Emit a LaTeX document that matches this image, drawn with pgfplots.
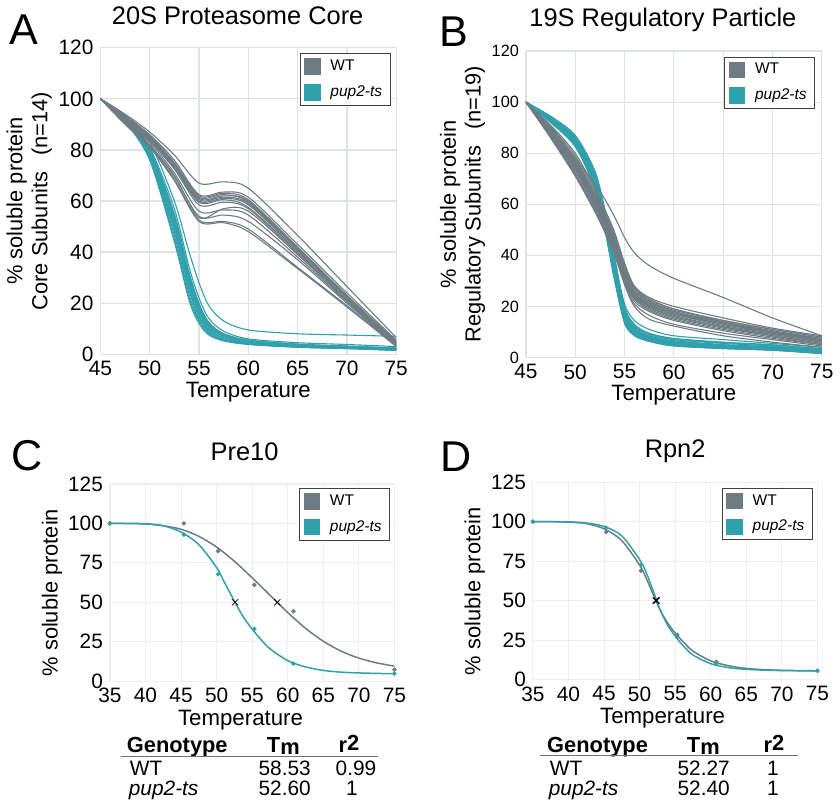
\documentclass[border=0pt]{standalone}
\usepackage{fontspec}
\setmainfont{Liberation Sans}
\usepackage{pgfplots}
\usepackage{pgfplotstable}
\pgfplotsset{compat=1.18}

\definecolor{wtc}{RGB}{108,124,130}
\definecolor{tsc}{RGB}{48,160,172}
\definecolor{gridab}{RGB}{222,228,229}
\definecolor{gridcd}{RGB}{238,240,240}

\pgfplotsset{
  panel/.style={
    scale only axis,
    /pgf/number format/assume math mode=true,
    grid=major,
    major tick length=0pt,
    tick style={draw=none},
    tick label style={font=\fontsize{10.5}{12}\selectfont},
    title style={font=\fontsize{12.8}{14}\selectfont, anchor=base},
    xlabel style={font=\fontsize{11.2}{13}\selectfont, anchor=base},
    ylabel style={font=\fontsize{11}{12.5}\selectfont, align=center, anchor=center},
    legend cell align=left,
    legend image code/.code={\fill (0pt,-3.9pt) rectangle (7.8pt,3.9pt);},
    legend style={draw=black!75, line width=0.5pt, font=\fontsize{7.8}{9}\selectfont,
      at={(1,1)}, anchor=north east, inner xsep=2pt, inner ysep=1pt, row sep=2pt,
      /tikz/every odd column/.append style={column sep=3pt}},
  },
  panelAB/.style={panel, width=149pt, height=154.3pt, xmin=45, xmax=75, ymin=0, ymax=120,
    xtick={45,50,...,75}, ytick={0,20,...,120},
    axis line style={draw=gridab}, major grid style={draw=gridab, line width=0.6pt}},
  panelCD/.style={panel, width=143.3pt, height=99.3pt, xmin=35, xmax=75, ymin=0, ymax=125,
    xtick={35,40,...,75}, ytick={0,25,...,125},
    axis line style={draw=gridcd}, major grid style={draw=gridcd, line width=0.5pt}},
  wtline/.style={wtc, line width=0.55pt, smooth, no marks, forget plot},
  tsline/.style={tsc, line width=0.55pt, smooth, no marks, forget plot},
}

% panel A, 20S core subunits
\pgfplotstableread{
x c1 c2 c3 c4 c5 c6 c7 c8 c9 c10 c11 c12 c13 c14
45 100 100 100 100 100 100 100 100 100 100 100 100 100 100
47.5 94 93 93 92.5 93.5 92 93 92.5 92 91.5 91 91 90.5 90
50 87 85 85.5 84.5 86 84 85 84 83.5 83 82 82 81.5 81
52.5 78 75 75 74 76 73.5 74.5 73 72.5 71 70 69.5 68.5 68
55 67 62 61 60.5 62.5 60 61.5 59.5 58.5 56 53.5 54 52.5 52
57.5 67.5 63 62 61.5 63.5 61 62.5 60.5 59.5 56.5 57 54.5 52 51.5
60 65 60.5 60 59 61.5 58.5 59.5 57.5 57 54.5 56 52 49 48
65 46.5 42 41.5 41 43 40.5 41.5 40 39.5 38 39 37 34 33.5
70 26.5 23 23 22.5 24 22 22.5 21.5 21 20.5 21 20 19 18.5
75 6.5 4.5 5 4.5 5.5 4 5 4 3.5 3.5 4 3.5 3.5 3
}\Awt

\pgfplotstableread{
x t1 t2 t3 t4 t5 t6 t7 t8 t9 t10 t11 t12 t13 t14
45 100 100 100 100 100 100 100 100 100 100 100 100 100 100
47.5 93.5 93 92.5 92.5 92 92 91.5 93 92.5 91.5 91 93 92 91
50 83 81 80 79 78.5 78 77.5 80.5 79.5 77 76.5 80 78.5 76
52.5 60 57 54 52 50 49 48 55 53 46.5 45 53.5 51 44
54 40 34 31 29 27 26 25 32 30 23.5 22 31 28 21
55 28 22 19 17.5 16 15 14.5 20 18 13.5 13 19 17 12
56 19 14 12 11 10 9.5 9 12.5 11.5 8.5 8 12 10.5 7.5
57.5 13 9 8 7 6.5 6 6 8 7.5 5.5 5.5 7.5 7 5.2
60 9.5 6 5.5 5 4.5 4.3 4 5.5 5 4 4 5 4.8 3.8
65 8 4.5 4 3.5 3.2 3 3 3.8 3.5 2.8 2.8 3.6 3.4 2.7
70 7.5 3.8 3.2 3 2.7 2.5 2.5 3 3 2.3 2.2 3 2.8 2.2
75 7 3 2.5 2.2 2 1.8 1.7 2.3 2 1.6 1.5 2.4 2.1 1.5
}\Ats

% panel B, 19S regulatory subunits
\pgfplotstableread{
x g1 g2 g3 g4 g5 g6 g7 g8 g9 g10 g11 g12 g13 g14 g15 g16 g17 g18 g19
45 100 100 100 100 100 100 100 100 100 100 100 100 100 100 100 100 100 100 100
47.5 90 91 90 89.5 89 88.5 88 87.5 87 86 90.5 89 88.5 88 87.5 86.5 89.5 88 87
50 78 80 78 77 76 75 74 73 72 71 79 76.5 75.5 74.5 73.5 71.5 77.5 75 73
52 68 66 64 63 62 61 60 59 58 57 65 62.5 61.5 60.5 59.5 57.5 63.5 61 59
53 62 58 56 55 54 53 52 51 50 49 57 54.5 53.5 52.5 51.5 49.5 55.5 53 51
54 55 49 47 46 45 44 43 42 41 40 48 45.5 44.5 43.5 42.5 40.5 46.5 44 42
55 47 37 35 34 33 32 31 30 29.5 29 36 33.5 32.5 31.5 30.5 28.5 34.5 32 31
56 41 28 27 26 25 24.5 24 23 22 21 27.5 25.5 25 24 23 20 26.5 24.5 23.5
57.5 36 23.5 22.5 22 21 20.5 20 19 18 16.5 23 21.5 21 20 18.5 15 22 20.5 19.5
60 31 20 19 18 17.5 17 16.5 15.5 14.5 13 19 18 17.5 16 15 12.3 18.5 17 16
65 23.5 15.5 14.5 14 13 12.5 12 11.5 10.5 9.5 14 13.5 13.5 12 11 8.5 14.5 13 12
70 15.5 11.5 11 10.5 10 9.5 9 8.5 7.5 7 10 10 10 9 8 6 11 9.5 8.5
75 8.5 8.5 8 7.5 7 6.5 6 5.5 5 4.5 6.5 7 7.5 6 5 4 8 6.5 5.5
}\Bwt

\pgfplotstableread{
x b1 b2 b3 b4 b5 b6 b7 b8 b9 b10 b11 b12 b13 b14 b15 b16 b17 b18 b19
45 100 100 100 100 100 100 100 100 100 100 100 100 100 100 100 100 100 100 100
47.5 94.5 94 93.5 93.5 93 93 92.5 92.5 92 94 93.8 93.2 93 92.8 92.5 94.2 93.6 93.3 92.3
50 87 86 85.5 85 84.5 84 83.5 83 82.5 86.5 85.5 84.8 84.2 83.8 83.2 86.2 85.2 84.6 83
52 73 71.5 70.5 70 69.5 69 68 67 66 72 71 69.8 69 68.5 67.5 72 70.2 69.6 67
53 58 57 56 55 54 53 52 51 50 57 56.5 54.5 53.5 52.5 51.5 57.5 55.5 54.2 50.5
54 39 37 36 35 34 33 32 31 30 38 36.5 34.5 33.5 32.5 31.5 38 35.5 34.2 30.5
55 20 18.5 17.5 17 16 15.5 15 14 13.5 21 18 16.5 16 15.2 14.5 19.5 17.2 16.2 13.8
56 13 12 11.5 11 10.5 10 9.5 9 8.5 14.5 11.5 10.8 10.3 9.8 9.2 12.5 11.2 10.6 8.8
57.5 9.5 9 8.5 8 7.5 7 7 6.5 6.3 11 8.5 7.8 7.3 7.2 6.8 9.3 8.2 7.6 6.4
60 7.5 7 6.5 6 5.5 5.3 5 4.8 4.5 8.5 6.5 5.8 5.5 5.2 5 7.2 6.2 5.7 4.6
65 6 5.5 5 4.5 4.2 4 3.8 3.6 3.5 7 5 4.4 4.2 4 3.8 5.8 4.7 4.3 3.5
70 5 4.5 4 3.8 3.5 3.3 3 3 2.8 5.5 4.2 3.7 3.4 3.2 3 4.8 3.9 3.6 2.9
75 3.5 3 2.8 2.5 2.2 2 1.8 1.6 1.5 4 2.7 2.4 2.2 2 1.9 3.3 2.6 2.3 1.6
}\Bts

\begin{document}
\begin{tikzpicture}
\begin{scope}[x=0.5pt, y=-0.5pt]
\path[use as bounding box] (0,0) rectangle (840,804);
\end{scope}

% ---- A ----
\begin{axis}[panelAB, at={(49.35pt,-175.85pt)}, anchor=south west,
  title={20S Proteasome Core}, title style={at={(0.464,1)}, yshift=5.8pt},
  xlabel={Temperature}, xlabel style={at={(0.5,0)}, yshift=-21.65pt},
  ylabel={\% soluble protein\\Core Subunits\hspace{0.75em}(n=14)},
  ylabel style={at={(-0.2406,0.5)}},
  legend style={xshift=-2.85pt, yshift=-2.85pt}]
\pgfplotsinvokeforeach{1,...,14}{\addplot[tsline] table[x=x, y=t#1] {\Ats};}
\pgfplotsinvokeforeach{1,...,14}{\addplot[wtline] table[x=x, y=c#1] {\Awt};}
\addlegendimage{wtc}\addlegendentry{WT}
\addlegendimage{tsc}\addlegendentry{\textit{pup2-ts}}
\end{axis}

% ---- B ----
\begin{axis}[panelAB, at={(263.65pt,-177.5pt)}, anchor=south west,
  yticklabel style={font=\fontsize{8.2}{10}\selectfont},
  title={19S Regulatory Particle}, title style={at={(0.463,1)}, yshift=6.35pt},
  xlabel={Temperature}, xlabel style={at={(0.5,0)}, yshift=-21.5pt},
  ylabel={\% soluble protein\\Regulatory Subunits\hspace{0.75em}(n=19)},
  ylabel style={at={(-0.2138,0.5)}},
  legend style={xshift=-3.35pt, yshift=-2.85pt}]
\pgfplotsinvokeforeach{1,...,19}{\addplot[tsline] table[x=x, y=b#1] {\Bts};}
\pgfplotsinvokeforeach{1,...,19}{\addplot[wtline] table[x=x, y=g#1] {\Bwt};}
\addlegendimage{wtc}\addlegendentry{WT}
\addlegendimage{tsc}\addlegendentry{\textit{pup2-ts}}
\end{axis}

% ---- C ----
\begin{axis}[panelCD, at={(54.15pt,-340.5pt)}, anchor=south west,
  title={Pre10}, title style={at={(0.473,1)}, yshift=5.8pt},
  xlabel={Temperature}, xlabel style={at={(0.459,0)}, yshift=-22.5pt},
  ylabel={\% soluble protein}, ylabel style={at={(-0.2033,0.449)}},
  legend style={xshift=-2.2pt, yshift=-2.2pt}]
\addplot[wtc, line width=0.75pt, smooth, forget plot] coordinates {
 (35,100)(37.5,99.9)(40,99.6)(42.5,98.5)(45,96.3)(47.5,91.8)(50,85)(52.5,76)(55,65.5)
 (57.5,54.5)(60,43.5)(62.5,33.5)(65,25.3)(67.5,19)(70,14.6)(72.5,11.6)(75,9.5)};
\addplot[tsc, line width=0.75pt, smooth, forget plot] coordinates {
 (35,100)(37.5,100)(40,99.8)(42.5,98.5)(45,94.5)(47.5,86.5)(50,72)(51,63.5)(52,55)(53,46.5)
 (54,39)(55,33)(56,27.5)(57.5,20.5)(60,13)(62.5,9)(65,6.8)(67.5,5.7)(70,5.2)(72.5,4.9)(75,4.7)};
\addplot[wtc, only marks, mark=*, mark size=0.9pt, forget plot] coordinates {
 (35,100)(45.4,100)(50.2,82.4)(55.3,61)(60.8,44.3)(75,7.3)};
\addplot[tsc, only marks, mark=*, mark size=0.9pt, forget plot] coordinates {
 (35,100)(45.4,92.9)(50.2,67.7)(55.3,33.1)(60.8,11.1)(75,4.8)};
\addplot[black, only marks, mark=x, mark size=2.2pt, line width=0.4pt, forget plot] coordinates {
 (58.53,50)(52.60,50)};
\addlegendimage{wtc}\addlegendentry{WT}
\addlegendimage{tsc}\addlegendentry{\textit{pup2-ts}}
\end{axis}

% ---- D ----
\begin{axis}[panelCD, at={(267.15pt,-339.65pt)}, anchor=south west,
  title={Rpn2}, title style={at={(0.5,1)}, yshift=6.35pt},
  xlabel={Temperature}, xlabel style={at={(0.456,0)}, yshift=-22.35pt},
  ylabel={\% soluble protein}, ylabel style={at={(-0.2043,0.447)}},
  legend style={xshift=-2.35pt, yshift=-2.85pt}]
\addplot[wtc, line width=0.75pt, smooth, forget plot] coordinates {
 (35,100)(37.5,100)(40,99.7)(42.5,98.8)(45,95.5)(47.5,88)(50,72.5)(51,63.5)(52,53)(53,43)
 (54,35.5)(55,29.5)(56,24.5)(57.5,18)(60,11.8)(62.5,8.7)(65,7)(67.5,6.2)(70,5.8)(72.5,5.6)(75,5.5)};
\addplot[tsc, line width=0.75pt, smooth, forget plot] coordinates {
 (35,100)(37.5,100)(40,99.9)(42.5,99.2)(45,97)(47.5,91)(50,76)(51,67)(52,55)(53,43)
 (54,34)(55,27.5)(56,22)(57.5,15.5)(60,10)(62.5,7.5)(65,6.4)(67.5,5.9)(70,5.6)(72.5,5.5)(75,5.4)};
\addplot[wtc, only marks, mark=*, mark size=0.9pt, forget plot] coordinates {
 (35,100)(45.3,93.5)(50.2,68.9)(55.3,28.4)(60.8,11.1)(75,5.5)};
\addplot[tsc, only marks, mark=*, mark size=0.9pt, forget plot] coordinates {
 (35,100)(45.3,96.2)(50.2,72.5)(55.3,26.9)(60.8,10.1)(75,5.5)};
\addplot[black, only marks, mark=x, mark size=2.2pt, line width=0.4pt, forget plot] coordinates {
 (52.27,50)(52.40,50)};
\addlegendimage{wtc}\addlegendentry{WT}
\addlegendimage{tsc}\addlegendentry{\textit{pup2-ts}}
\end{axis}

\begin{scope}[x=0.5pt, y=-0.5pt]
% panel letters
\begin{scope}[every node/.style={inner sep=0, font=\fontsize{21.7}{24}\selectfont}]
\node[anchor=base west] at (6.7,39.3) {A};
\node[anchor=base west] at (440,41.7) {B};
\node[anchor=base west] at (8.3,469) {C};
\node[anchor=base west] at (440.7,470) {D};
\end{scope}

% fit tables
\begin{scope}[every node/.style={inner sep=0, font=\fontsize{10.5}{12}\selectfont}]
\node[anchor=base west, font=\fontsize{11}{13}\selectfont\bfseries] at (125,753) {Genotype};
\node[anchor=base, font=\fontsize{11}{13}\selectfont\bfseries] at (283,753) {T\raisebox{-0.15ex}{m}};
\node[anchor=base, font=\fontsize{11}{13}\selectfont\bfseries] at (349,753) {r\raisebox{0.15ex}{2}};
\draw[black!55, line width=0.7pt] (119,757) -- (378,757);
\node[anchor=base west] at (128,776) {WT};
\node[anchor=base east] at (311,776) {58.53};
\node[anchor=base east] at (377,776) {0.99};
\node[anchor=base west] at (127,796) {\itshape pup2-ts};
\node[anchor=base east] at (311,796) {52.60};
\node[anchor=base] at (352,796) {1};

\node[anchor=base west, font=\fontsize{11}{13}\selectfont\bfseries] at (548.3,753) {Genotype};
\node[anchor=base, font=\fontsize{11}{13}\selectfont\bfseries] at (706,753) {T\raisebox{-0.15ex}{m}};
\node[anchor=base, font=\fontsize{11}{13}\selectfont\bfseries] at (777,753) {r\raisebox{0.15ex}{2}};
\draw[black!55, line width=0.7pt] (541.7,756) -- (801,756);
\node[anchor=base west] at (551,776) {WT};
\node[anchor=base east] at (733,776) {52.27};
\node[anchor=base] at (776,776) {1};
\node[anchor=base west] at (550,796) {\itshape pup2-ts};
\node[anchor=base east] at (733,796) {52.40};
\node[anchor=base] at (776,796) {1};
\end{scope}
\end{scope}
\end{tikzpicture}
\end{document}
